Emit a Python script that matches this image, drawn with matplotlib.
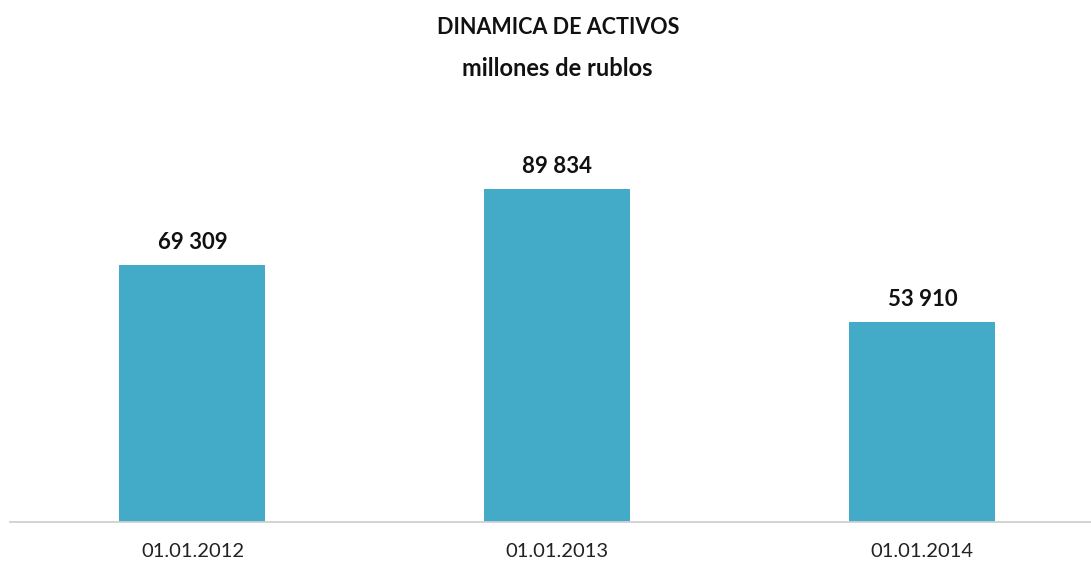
import matplotlib
matplotlib.use("Agg")
import matplotlib.pyplot as plt

categories = ["01.01.2012", "01.01.2013", "01.01.2014"]
values = [69309, 89834, 53910]
labels = ["69 309", "89 834", "53 910"]

plt.rcParams['font.family'] = ['Lato', 'DejaVu Sans']

fig = plt.figure(figsize=(10.91, 5.61), dpi=100)
ax = fig.add_axes([10/1091, 1 - 522/561, 1081/1091, 422/561])

x = list(range(len(categories)))
ax.bar(x, values, width=0.4, color="#43ABC7", zorder=2)
for xi, v, lab in zip(x, values, labels):
    ax.annotate(lab, (xi, v), xytext=(0, 9), textcoords="offset points",
                ha="center", va="bottom", fontsize=16, fontweight="bold",
                color="#111111")

ax.set_xlim(-0.5, 2.462)
ax.set_ylim(0, 114000)
ax.set_yticks([])
ax.set_xticks(x)
ax.set_xticklabels(categories, fontsize=14.5, color="#222222")
ax.tick_params(axis="x", length=0, pad=15)
for s in ["top", "right", "left"]:
    ax.spines[s].set_visible(False)
ax.spines["bottom"].set_color("#D0D0D0")
ax.spines["bottom"].set_linewidth(1.3)

fig.text(558/1091, 1 - 28/561, "DINAMICA DE ACTIVOS", ha="center", va="center",
         fontsize=15.5, fontweight="bold", color="#111111")
fig.text(557/1091, 1 - 68/561, "millones de rublos", ha="center", va="center",
         fontsize=17, fontweight="bold", color="#111111")

fig.savefig("out.png", dpi=100)
